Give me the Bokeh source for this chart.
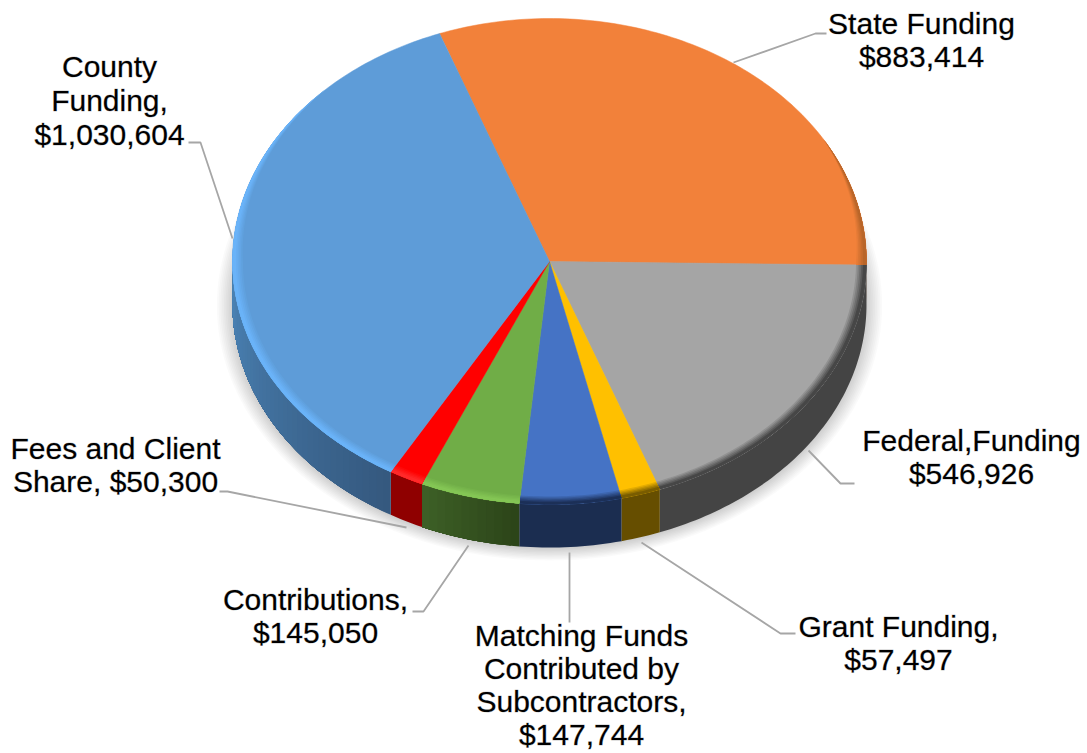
import numpy as np
from bokeh.plotting import figure
from bokeh.embed import file_html
from bokeh.resources import INLINE
from bokeh.core.properties import value

# ---- data (clockwise from the top-left boundary)
categories = ["State Funding", "Federal Funding", "Grant Funding",
              "Matching Funds Contributed by Subcontractors",
              "Contributions", "Fees and Client Share", "County Funding"]
amounts = [883414, 546926, 57497, 147744, 145050, 50300, 1030604]

top_colors = ["#F2813A", "#A5A5A5", "#FFC000", "#4573C5", "#70AD47", "#FF0000", "#5E9CD8"]
rim_colors = ["#B9662A", "#474747", "#7A5D00", "#1C3058", "#84C655", "#FF2A2A", "#6AB3F8"]
side_a = ["#8F4F20", "#444444", "#664E00", "#1B2D50", "#2C4519", "#8F0000", "#35597F"]
side_b = ["#8F4F20", "#444444", "#664E00", "#1B2D50", "#3D5F26", "#8F0000", "#4C85B8"]

labels = [
    (["State Funding", "$883,414"], 921, [23, 56]),
    (["Federal,Funding", "$546,926"], 971, [440, 473]),
    (["Grant Funding,", "$57,497"], 898, [626, 659]),
    (["Matching Funds", "Contributed by", "Subcontractors,", "$147,744"], 581, [635, 668, 701, 734]),
    (["Contributions,", "$145,050"], 315, [599, 632]),
    (["Fees and Client", "Share, $50,300"], 115, [448, 481]),
    (["County", "Funding,", "$1,030,604"], 109, [66, 100, 134]),
]
leaders = [
    ([733, 815, 826], [62, 33, 33]),
    ([808, 840, 854], [450, 483, 483]),
    ([641, 780, 795], [542, 633, 633]),
    ([569, 569], [552, 622]),
    ([468, 423, 412], [545, 611, 611]),
    ([406, 227, 219], [527, 491, 491]),
    ([232, 200, 188], [238, 142, 142]),
]

# ---- geometry
CX, CY, RX, RY, DEPTH = 549.0, 261.0, 317.0, 243.0, 43.0
START = -20.3
BEVEL = 0.033
W, H = 1087, 753


def pt(theta, f=1.0, dy=0.0):
    t = np.radians(theta)
    return CX + RX * f * np.sin(t), CY - RY * f * np.cos(t) + dy


def hex2rgb(c):
    return np.array([int(c[i:i + 2], 16) for i in (1, 3, 5)], dtype=float)


def mix(a, b, t):
    c = hex2rgb(a) * (1 - t) + hex2rgb(b) * t
    return "#%02x%02x%02x" % tuple(int(round(v)) for v in c)


def strength(theta):
    th = theta % 360
    if 90 <= th <= 270:
        return 1.0
    if 60 < th < 90:
        return (th - 60) / 30
    if 270 < th < 315:
        return (315 - th) / 45
    return 0.0


p = figure(width=W, height=H, x_range=(0, W), y_range=(H, 0),
           output_backend="svg", toolbar_location=None, min_border=0,
           outline_line_color=None, background_fill_color="white")
p.axis.visible = False
p.grid.visible = False

# soft shadow under the pie
sh = np.linspace(0, 360, 181)
for i in range(10):
    g = 1 + i * 0.0055
    xs, ys = pt(sh, g, DEPTH + 1)
    p.patch(list(xs), list(ys), fill_color="#000000", fill_alpha=0.018, line_color=None)

fractions = np.array(amounts, dtype=float) / sum(amounts)
edges = START + 360 * np.concatenate([[0], np.cumsum(fractions)])

# side wall: painted from the wedge start on, each strip reaching to the wedge end so no seams show
for i in range(len(amounts)):
    a0, a1 = edges[i], edges[i + 1]
    lo, hi = max(a0, 88), min(a1, 272)
    if hi <= lo:
        continue
    n = max(int((hi - lo) / 1.5), 1) if side_a[i] != side_b[i] else 1
    cuts = np.linspace(lo, hi, n + 1)
    for k in range(n):
        u = cuts[k]
        arc = np.linspace(u, hi, max(int(hi - u), 2) + 1)
        x, y = pt(arc)
        px = list(x) + list(x[::-1])
        py = list(y) + list((y + DEPTH)[::-1])
        col = mix(side_a[i], side_b[i], k / max(n - 1, 1))
        p.patch(px, py, fill_color=col, line_color=None)

# top faces
fx, fy = [], []
for i in range(len(amounts)):
    arc = np.linspace(edges[i], edges[i + 1], max(int(edges[i + 1] - edges[i]), 2) + 1)
    x, y = pt(arc)
    fx.append([CX] + list(x))
    fy.append([CY] + list(y))
p.patches(fx, fy, fill_color=top_colors, line_color=top_colors, line_width=0.5)

# bevelled rim: widest band first in a tone near the face, narrowest last in the rim tone
STEPS = 6
for i in range(len(amounts)):
    grid = np.arange(edges[i], edges[i + 1] + 1.0, 1.0)
    grid[-1] = edges[i + 1]
    st = np.array([strength(a) for a in grid])
    if st.max() == 0:
        continue
    for k in range(STEPS):
        w = 1 - k / STEPS
        col = mix(top_colors[i], rim_colors[i], min(1.0, (k + 1) / STEPS * 1.2))
        x0, y0 = pt(grid, 1.0)
        x1, y1 = pt(grid, 1 - BEVEL * st * w)
        p.patch(list(x0) + list(x1[::-1]), list(y0) + list(y1[::-1]), fill_color=col, line_color=None)

# leader lines
for lx, ly in leaders:
    p.line(lx, ly, line_color="#A6A6A6", line_width=1.8)

# labels
for lines, x, ys in labels:
    p.text([x] * len(lines), ys, text=lines, text_align="center", text_baseline="middle",
           text_font=value("Liberation Sans"), text_font_size="30px", text_color="#000000",
           text_outline_color="#00000040")

open("out.html", "w").write(file_html(p, INLINE))
